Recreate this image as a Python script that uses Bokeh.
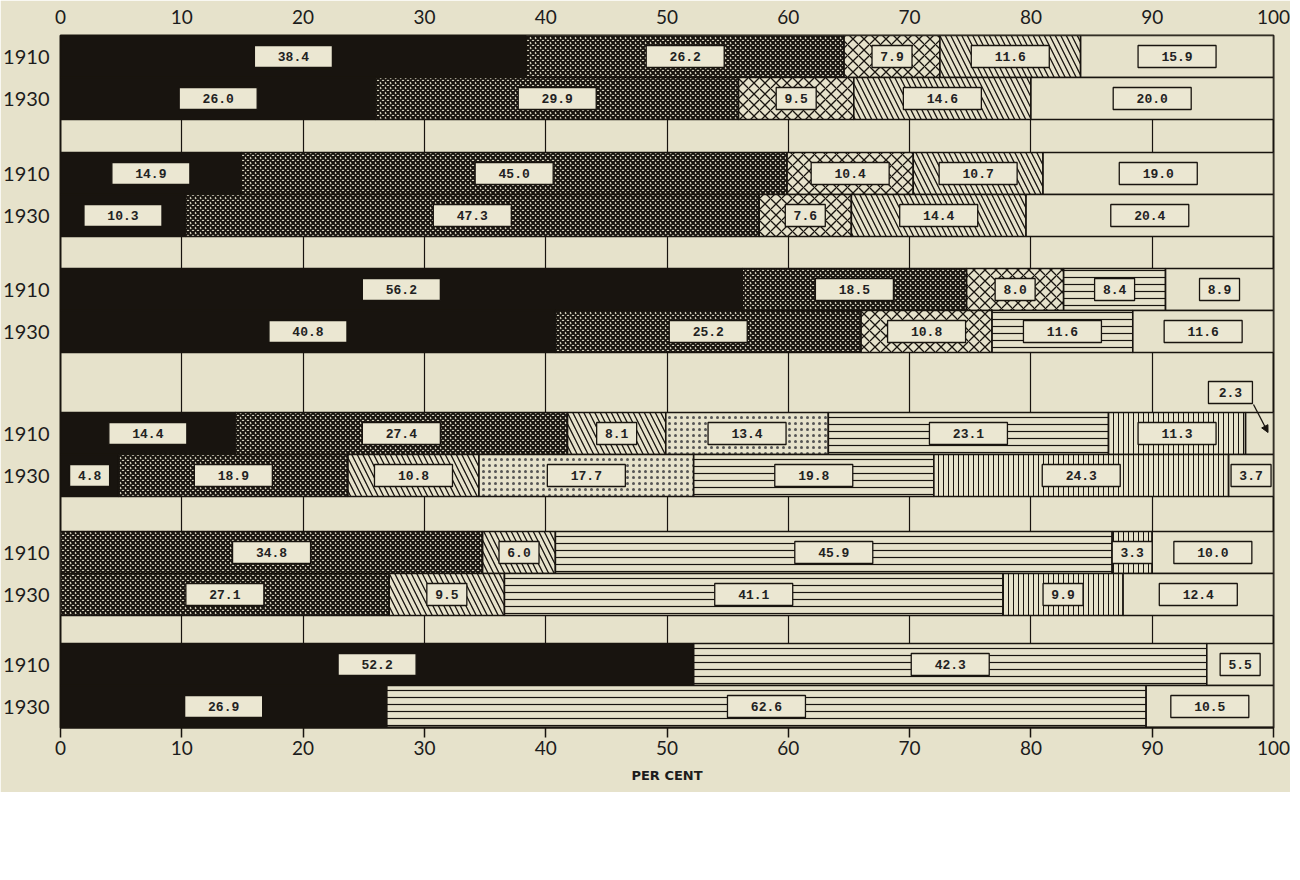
import numpy as np
from bokeh.plotting import figure
from bokeh.models import Range1d, FixedTicker, LinearAxis, ColumnDataSource, Arrow, NormalHead
from bokeh.core.properties import value
from bokeh.embed import file_html
from bokeh.resources import INLINE

# ---------------- data (per cent) ----------------
years = ["1910", "1930"] * 6
black = [38.4, 26.0, 14.9, 10.3, 56.2, 40.8, 14.4, 4.8, 0, 0, 52.2, 26.9]
fine_check = [26.2, 29.9, 45.0, 47.3, 18.5, 25.2, 27.4, 18.9, 34.8, 27.1, 0, 0]
coarse_cross = [7.9, 9.5, 10.4, 7.6, 8.0, 10.8, 0, 0, 0, 0, 0, 0]
diagonal = [11.6, 14.6, 10.7, 14.4, 0, 0, 8.1, 10.8, 6.0, 9.5, 0, 0]
stipple = [0, 0, 0, 0, 0, 0, 13.4, 17.7, 0, 0, 0, 0]
horizontal = [0, 0, 0, 0, 8.4, 11.6, 23.1, 19.8, 45.9, 41.1, 42.3, 62.6]
vertical = [0, 0, 0, 0, 0, 0, 11.3, 24.3, 3.3, 9.9, 0, 0]
blank = [15.9, 20.0, 19.0, 20.4, 8.9, 11.6, 2.3, 3.7, 10.0, 12.4, 5.5, 10.5]
x_ticks = list(range(0, 101, 10))

# ---------------- styles ----------------
PAPER = "#e6e2cb"
INK = "#18140f"
styles = [
    (black, dict(fill_color=INK)),
    (fine_check, dict(fill_color=PAPER, hatch_pattern="diagonal_cross", hatch_scale=5, hatch_weight=2.1, hatch_color=INK)),
    (coarse_cross, dict(fill_color=PAPER, hatch_pattern="diagonal_cross", hatch_scale=11, hatch_weight=1.3, hatch_color=INK)),
    (diagonal, dict(fill_color=PAPER, hatch_pattern="left_diagonal_line", hatch_scale=11, hatch_weight=1.3, hatch_color=INK)),
    (stipple, dict(fill_color=PAPER, hatch_pattern="dot", hatch_scale=6, hatch_weight=0.9, hatch_color="#555")),
    (horizontal, dict(fill_color=PAPER, hatch_pattern="horizontal_line", hatch_scale=7, hatch_weight=1.2, hatch_color=INK)),
    (vertical, dict(fill_color=PAPER, hatch_pattern="vertical_line", hatch_scale=5, hatch_weight=1.0, hatch_color=INK)),
    (blank, dict(fill_color=PAPER)),
]

# ---------------- layout of rows ----------------
BAR_H = 42
GAPS = [33, 32, 60, 35, 28]
tops = []
yy = 0
for g in range(6):
    tops.append(yy)
    tops.append(yy + BAR_H)
    yy += 2 * BAR_H + (GAPS[g] if g < 5 else 0)
total_h = yy
centers = [t + BAR_H / 2 for t in tops]

p = figure(width=1290, height=792, x_range=Range1d(0, 100), y_range=Range1d(total_h, 0),
           output_backend="svg", toolbar_location=None,
           min_border_left=58, min_border_right=17, min_border_top=35, min_border_bottom=65)
p.background_fill_color = PAPER
p.border_fill_color = PAPER
p.outline_line_color = INK
p.outline_line_width = 2

cum = np.zeros(len(years))
lab_x, lab_y, lab_t, lab_w = [], [], [], []
call_x, call_y, call_t = [], [], []
for vals, st in styles:
    v = np.array(vals, dtype=float)
    mask = v > 0
    left = cum[mask]
    right = (cum + v)[mask]
    ys = np.array(centers)[mask]
    src = ColumnDataSource(dict(y=ys, left=left, right=right))
    p.hbar(y="y", left="left", right="right", height=BAR_H, source=src,
           line_color=INK, line_width=1.6, **st)
    for l, r, yc, val, top in zip(left, right, ys, v[mask], np.array(tops)[mask]):
        txt = f"{val:.1f}"
        mid = (l + r) / 2
        if val < 3:
            call_x.append(mid - 2.4)
            call_y.append(top - 20)
            call_t.append(txt)
            p.add_layout(Arrow(end=NormalHead(size=7, fill_color=INK, line_color=INK),
                               x_start=mid - 0.5, y_start=top - 8, x_end=mid + 0.7, y_end=top + 20,
                               line_color=INK, line_width=1.3))
        else:
            lab_x.append(mid)
            lab_y.append(yc)
            lab_t.append(txt)
            lab_w.append(40 if len(txt) == 3 else 78)
    cum = cum + v

for xs, ys, ts, ws in [(lab_x, lab_y, lab_t, lab_w), (call_x, call_y, call_t, [44] * len(call_t))]:
    s = ColumnDataSource(dict(x=xs, y=ys, t=ts, w=ws))
    p.rect(x="x", y="y", width="w", height=22, width_units="screen", height_units="screen",
           source=s, fill_color="#ebe7d2", line_color=INK, line_width=1.3)
    p.text(x="x", y="y", text="t", source=s, text_align="center", text_baseline="middle",
           text_font=value("Liberation Mono"), text_font_style="bold", text_font_size="13px",
           text_color="#222222")

# ---------------- axes ----------------
ticker = FixedTicker(ticks=x_ticks)
xa = p.xaxis[0]
xa.ticker = ticker
xa.axis_line_color = INK
xa.axis_line_width = 2
xa.major_tick_out = 10
xa.major_tick_in = 0
xa.major_tick_line_color = INK
xa.major_tick_line_width = 1.5
xa.minor_tick_line_color = None
xa.major_label_standoff = 3
xa.major_label_text_font = "Lato"
xa.major_label_text_font_size = "19px"
xa.major_label_text_color = "#1c1c1c"
xa.axis_label = "PER CENT"
xa.axis_label_text_font = "DejaVu Sans"
xa.axis_label_text_font_style = "bold"
xa.axis_label_text_font_size = "13px"
xa.axis_label_text_color = "#1c1c1c"
xa.axis_label_standoff = 10

top_ax = LinearAxis(ticker=ticker, axis_line_color=None, major_tick_out=0, major_tick_in=0,
                    minor_tick_line_color=None, major_label_standoff=12,
                    major_label_text_font="Lato", major_label_text_font_size="19px",
                    major_label_text_color="#1c1c1c")
p.add_layout(top_ax, "above")

ya = p.yaxis[0]
ya.ticker = FixedTicker(ticks=centers)
ya.major_label_overrides = {c: yr for c, yr in zip(centers, years)}
ya.axis_line_color = None
ya.major_tick_line_color = None
ya.minor_tick_line_color = None
ya.major_label_standoff = 5
ya.major_label_text_font = "Lato"
ya.major_label_text_font_size = "20px"
ya.major_label_text_color = "#1c1c1c"

p.xgrid.ticker = ticker
p.xgrid.grid_line_color = INK
p.xgrid.grid_line_width = 1.2
p.ygrid.visible = False

open("out.html", "w").write(file_html(p, INLINE))
